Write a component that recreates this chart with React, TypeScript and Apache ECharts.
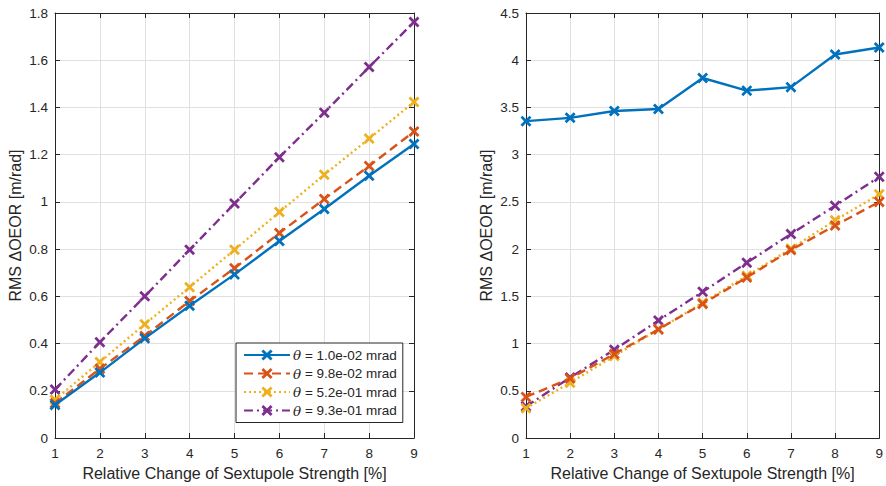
import React, { useEffect, useRef } from "react";
import * as echarts from "echarts";

const X = [1, 2, 3, 4, 5, 6, 7, 8, 9];
const names = ["1.0e-02", "9.8e-02", "5.2e-01", "9.3e-01"];
const colors = ["#0072BD", "#D95319", "#EDB120", "#7E2F8E"];

const leftBlue = [0.14, 0.277, 0.422, 0.56, 0.693, 0.834, 0.97, 1.111, 1.245];
const leftOrange = [0.147, 0.293, 0.432, 0.58, 0.719, 0.868, 1.012, 1.152, 1.298];
const leftYellow = [0.162, 0.322, 0.482, 0.639, 0.797, 0.957, 1.115, 1.268, 1.423];
const leftPurple = [0.205, 0.406, 0.6, 0.797, 0.993, 1.189, 1.378, 1.571, 1.762];

const rightBlue = [3.355, 3.39, 3.462, 3.483, 3.812, 3.678, 3.715, 4.06, 4.135];
const rightOrange = [0.435, 0.63, 0.89, 1.15, 1.42, 1.7, 1.99, 2.25, 2.5];
const rightYellow = [0.314, 0.586, 0.868, 1.15, 1.433, 1.717, 2.005, 2.305, 2.58];
const rightPurple = [0.335, 0.64, 0.935, 1.245, 1.548, 1.855, 2.16, 2.458, 2.765];

const lineTypes: any[] = ["solid", [9, 5], [2, 3], [9, 4, 2, 4]];

const FONT = "Liberation Sans, Arial, Helvetica, sans-serif";
const TXT = "#262626";
const XSYM =
  "path://M0,1.8L1.8,0L5,3.2L8.2,0L10,1.8L6.8,5L10,8.2L8.2,10L5,6.8L1.8,10L0,8.2L3.2,5Z";

export default function App() {
  const ref = useRef<HTMLDivElement>(null);
  useEffect(() => {
    if (!ref.current) return;
    const chart = echarts.init(ref.current, undefined, { renderer: "svg" });

    const mainX = (gridIndex: number) => ({
      type: "value",
      gridIndex,
      min: 1,
      max: 9,
      interval: 1,
      name: "Relative Change of Sextupole Strength [%]",
      nameLocation: "middle",
      nameGap: 27,
      nameTextStyle: { color: TXT, fontSize: 16, fontFamily: FONT },
      axisLine: { show: true, onZero: false, lineStyle: { color: TXT, width: 1 } },
      axisTick: { show: true, inside: true, length: 5, lineStyle: { color: TXT } },
      axisLabel: { color: TXT, fontSize: 13.5, fontFamily: FONT, margin: 8 },
      splitLine: { show: true, lineStyle: { color: "#e0e0e0", width: 1 } },
    });
    const mirrorX = (gridIndex: number) => ({
      type: "value",
      gridIndex,
      position: "top",
      min: 1,
      max: 9,
      interval: 1,
      axisLine: { show: true, onZero: false, lineStyle: { color: TXT, width: 1 } },
      axisTick: { show: true, inside: true, length: 5, lineStyle: { color: TXT } },
      axisLabel: { show: false },
      splitLine: { show: false },
    });
    const mainY = (gridIndex: number, max: number, interval: number) => ({
      type: "value",
      gridIndex,
      min: 0,
      max,
      interval,
      name: "RMS ΔOEOR [m/rad]",
      nameLocation: "middle",
      nameGap: 32,
      nameTextStyle: { color: TXT, fontSize: 16, fontFamily: FONT },
      axisLine: { show: true, onZero: false, lineStyle: { color: TXT, width: 1 } },
      axisTick: { show: true, inside: true, length: 5, lineStyle: { color: TXT } },
      axisLabel: { color: TXT, fontSize: 13.5, fontFamily: FONT, margin: 7 },
      splitLine: { show: true, lineStyle: { color: "#e0e0e0", width: 1 } },
    });
    const mirrorY = (gridIndex: number, max: number, interval: number) => ({
      type: "value",
      gridIndex,
      position: "right",
      min: 0,
      max,
      interval,
      axisLine: { show: true, onZero: false, lineStyle: { color: TXT, width: 1 } },
      axisTick: { show: true, inside: true, length: 5, lineStyle: { color: TXT } },
      axisLabel: { show: false },
      splitLine: { show: false },
    });

    const mk = (arr: number[], i: number, xi: number, yi: number) => ({
      type: "line",
      name: names[i],
      xAxisIndex: xi,
      yAxisIndex: yi,
      data: X.map((x, k) => [x, arr[k]]),
      symbol: XSYM,
      symbolSize: 11,
      showSymbol: true,
      color: colors[i],
      itemStyle: { color: colors[i] },
      lineStyle: { color: colors[i], width: 2.4, type: lineTypes[i] },
      z: 10 - i,
    });

    const leftData = [leftBlue, leftOrange, leftYellow, leftPurple];
    const rightData = [rightBlue, rightOrange, rightYellow, rightPurple];

    chart.setOption({
      animation: false,
      backgroundColor: "#ffffff",
      textStyle: { fontFamily: FONT },
      grid: [
        { left: 55, right: 472, top: 13, bottom: 48, containLabel: false },
        { left: 526, right: 1, top: 13, bottom: 48, containLabel: false },
      ],
      xAxis: [mainX(0), mirrorX(0), mainX(1), mirrorX(1)],
      yAxis: [mainY(0, 1.8, 0.2), mirrorY(0, 1.8, 0.2), mainY(1, 4.5, 0.5), mirrorY(1, 4.5, 0.5)],
      legend: {
        show: true,
        data: names,
        orient: "vertical",
        left: 236,
        top: 343,
        itemWidth: 46,
        itemHeight: 14,
        itemGap: 4.5,
        padding: [5, 6, 5, 7],
        backgroundColor: "#ffffff",
        borderColor: TXT,
        borderWidth: 1,
        borderRadius: 0,
        inactiveColor: "#ccc",
        formatter: (name: string) => `{i|θ} = ${name} mrad`,
        textStyle: {
          color: TXT,
          fontSize: 13.5,
          fontFamily: FONT,
          padding: [0, 0, 0, -2],
          rich: {
            i: { fontStyle: "italic", fontSize: 13.5, fontFamily: "DejaVu Serif, serif", color: TXT },
          },
        },
      },
      series: [
        ...leftData.map((a, i) => mk(a, i, 0, 0)),
        ...rightData.map((a, i) => mk(a, i, 2, 2)),
      ],
    });

    return () => chart.dispose();
  }, []);

  return (
    <div
      ref={ref}
      style={{ position: "fixed", left: 0, top: 0, width: 886, height: 486, background: "#fff" }}
    />
  );
}
